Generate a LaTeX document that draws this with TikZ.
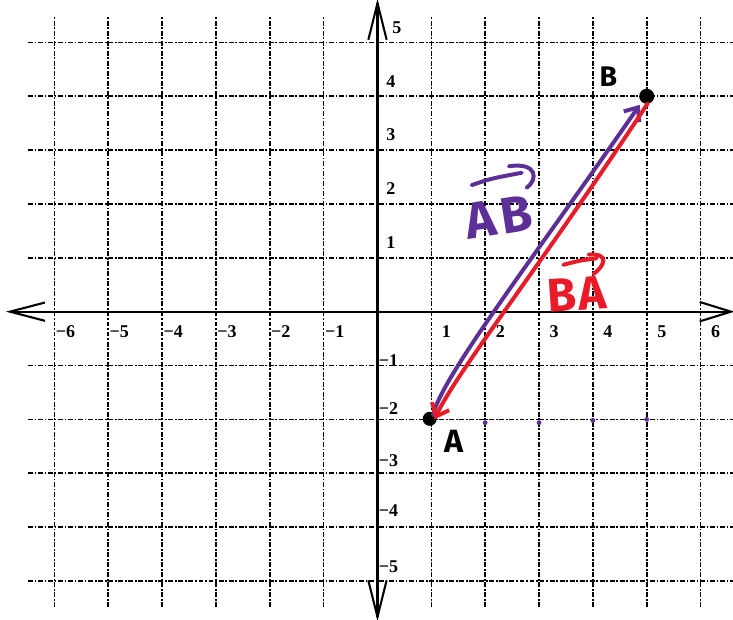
\documentclass[tikz,border=0pt]{standalone}
\usepackage{fontspec}
\setmainfont{Liberation Serif}
\newfontfamily\handfont{Fira Sans}
\usetikzlibrary{arrows.meta}
\definecolor{vpurple}{RGB}{92,48,150}
\definecolor{vred}{RGB}{232,28,40}
\begin{document}
\begin{tikzpicture}[x=1cm,y=1cm,
  gridline/.style={line width=0.85pt, dash pattern=on 2.6pt off 0.9pt on 0.9pt off 0.9pt},
  axisline/.style={line width=1.1pt},
  tick/.style={font=\fontsize{9.5}{11}\selectfont\bfseries, inner sep=0pt},
  hand/.style={inner sep=0pt, font=\handfont\bfseries\fontsize{#1}{#1}\selectfont},
  vec/.style={line width=2.1pt, line cap=round, -{Straight Barb[length=6pt,width=10pt]}},
  overarrow/.style={line width=2.1pt, line cap=round}
]
\useasboundingbox (-7.010,-5.725) rectangle (6.602,5.788);

% grid
\foreach \x in {-6,...,-1,1,2,...,6}
  \draw[gridline] (\x,-5.49) -- (\x,5.49);
\foreach \y in {-5,...,-1,1,2,...,5}
  \draw[gridline] (-6.49,\y) -- (6.6,\y);

% axes
\coordinate (xl) at (-6.825,0);
\coordinate (xr) at (6.565,0);
\coordinate (yt) at (0,5.73);
\coordinate (yb) at (0,-5.67);
\draw[axisline] (xl) -- (xr);
\draw[axisline] (yb) -- (yt);
\draw[axisline] (xl) ++(0.65,0.17) -- (xl) -- ++(0.65,-0.17);
\draw[axisline] (xr) ++(-0.58,0.18) -- (xr) -- ++(-0.58,-0.18);
\draw[axisline] (yt) ++(-0.17,-0.68) -- (yt) -- ++(0.17,-0.68);
\draw[axisline] (yb) ++(-0.17,0.68) -- (yb) -- ++(0.17,0.68);

% tick labels
\foreach \x in {1,...,6}
  \node[tick] (tx\x) at (\x+0.28,-0.37) {\x};
\foreach \x in {1,...,6}
  \node[tick,anchor=west] (txm\x) at (-\x+0.02,-0.37) {−\x};
\foreach \y in {1,...,4}
  \node[tick] (ty\y) at (0.25,\y+0.28) {\y};
\node[tick] (ty5) at (0.36,5.27) {5};
\foreach \y/\o in {1/0.1,2/0.2,3/0.24,4/0.3,5/0.27}
  \node[tick,anchor=west] (tym\y) at (0.02,-\y+\o) {−\y};

% points
\coordinate (A) at (0.97,-1.99);
\coordinate (B) at (5,4);
\fill (A) circle (0.13);
\fill (B) circle (0.14);
\foreach \px/\py in {2/-2.06,3/-2.06,4/-2.02,5/-2.0}
  \fill[vpurple] (\px,\py) circle (0.045);

% vectors
\coordinate (pA) at (1.03,-1.92);
\coordinate (pB) at (4.87,3.84);
\coordinate (rB) at (5.02,3.87);
\coordinate (rA) at (1.06,-2.0);
\draw[vec, vpurple] (pA) .. controls (1.2,-1.2) and (2.9,1.0) .. (pB);
\draw[vec, vred] (rB) .. controls (3.1,0.95) and (1.45,-1.15) .. (rA);

% labels
\node[hand=17] (lA) at (1.43,-2.41) {A};
\node[hand=15] (lB) at (4.29,4.36) {B};
\node[hand=27, text=vpurple, rotate=9] (lAB) at (2.25,1.76) {A\kern2.5pt B};
\node[hand=25, text=vred, rotate=4] (lBA) at (3.70,0.32) {B\kern1pt A};

% over-arrows
\coordinate (ab1) at (1.75,2.35);
\coordinate (ab2) at (2.68,2.58);
\draw[overarrow, vpurple] (ab1) .. controls (2.1,2.47) .. (ab2);
\draw[overarrow, vpurple] (2.44,2.70) .. controls (2.98,2.78) and (2.98,2.45) .. (2.77,2.30);
\coordinate (ba1) at (3.45,0.87);
\coordinate (ba2) at (4.07,0.99);
\draw[overarrow, vred] (ba1) .. controls (3.75,0.95) .. (ba2);
\draw[overarrow, vred] (3.92,1.06) .. controls (4.32,1.09) and (4.22,0.85) .. (4.01,0.70);
\end{tikzpicture}
\end{document}
